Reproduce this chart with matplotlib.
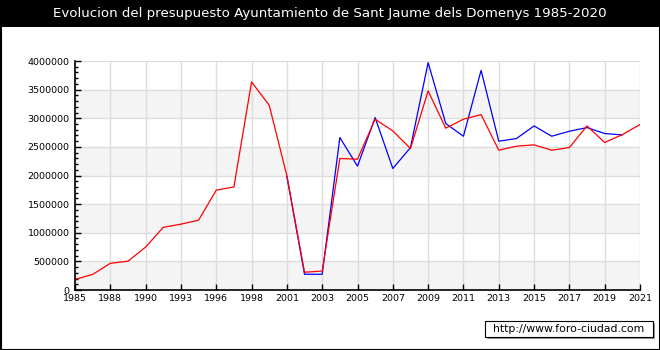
import matplotlib
matplotlib.use("Agg")
import matplotlib.pyplot as plt
from matplotlib.patches import Rectangle
from matplotlib.ticker import MultipleLocator

# Data points (the x axis places each point at equal spacing)
years = ['1985', '1987', '1988', '1989', '1990', '1992', '1993', '1995', '1996', '1997',
         '1998', '2000', '2001', '2002', '2003', '2004', '2005', '2006', '2007', '2008',
         '2009', '2010', '2011', '2012', '2013', '2014', '2015', '2016', '2017', '2018',
         '2019', '2020', '2021']
tick_labels = ['1985', '1988', '1990', '1993', '1996', '1998', '2001', '2003', '2005',
               '2007', '2009', '2011', '2013', '2015', '2017', '2019', '2021']

red_values = [185000, 272000, 466000, 503000, 750000, 1095000, 1150000, 1220000, 1744000,
              1800000, 3634000, 3227000, 1995000, 310000, 331000, 2297000, 2285000,
              2983000, 2779000, 2471000, 3477000, 2826000, 2983000, 3064000, 2442000,
              2512000, 2535000, 2442000, 2488000, 2866000, 2576000, 2715000, 2889000]

blue_years = years[12:32]
blue_values = [1985000, 275000, 275000, 2663000, 2163000, 3012000, 2122000, 2488000,
               3971000, 2907000, 2686000, 3837000, 2599000, 2645000, 2866000, 2686000,
               2773000, 2837000, 2733000, 2709000]

title = "Evolucion del presupuesto Ayuntamiento de Sant Jaume dels Domenys 1985-2020"
watermark = "http://www.foro-ciudad.com"

W, H = 660, 350
fig = plt.figure(figsize=(W / 100, H / 100), dpi=100)
fig.patch.set_facecolor('white')

# title bar
fig.add_artist(Rectangle((0, 1 - 27 / H), 1, 27 / H, transform=fig.transFigure,
                         facecolor='black', edgecolor='none', zorder=0))
fig.text(0.5, 1 - 13.5 / H, title, color='white', fontsize=9.6,
         ha='center', va='center', family='DejaVu Sans')
# outer frame
fig.add_artist(Rectangle((0.5 / W, 0.5 / H), 1 - 1 / W, 1 - 1 / H, transform=fig.transFigure,
                         facecolor='none', edgecolor='black', lw=1.5, zorder=5))

left, right, top, bottom = 75, 640, 61, 290
ax = fig.add_axes([left / W, 1 - bottom / H, (right - left) / W, (bottom - top) / H])
ax.set_facecolor('white')

xpos = {y: i for i, y in enumerate(years)}
n = len(years)
ax.set_xlim(0, n - 1)
ax.set_ylim(0, 4000000)

# alternating bands
for lo in [0, 1000000, 2000000, 3000000]:
    ax.axhspan(lo, lo + 500000, color='#f4f4f4', zorder=0, lw=0)

# grid
for v in range(0, 4000001, 500000):
    ax.axhline(v, color='#dddddd', lw=1, zorder=1)
tick_pos = list(range(0, n, 2))
for p in tick_pos:
    ax.axvline(p, color='#dddddd', lw=1, zorder=1)

bx = [xpos[y] for y in blue_years]
rx = [xpos[y] for y in years]
ax.plot(bx, blue_values, color='#0000ff', lw=0.9, zorder=3)
ax.plot(rx, red_values, color='#ff0000', lw=0.9, zorder=4)

for s in ['top', 'right']:
    ax.spines[s].set_visible(False)
for s in ['left', 'bottom']:
    ax.spines[s].set_color('black')
    ax.spines[s].set_linewidth(1.2)
    ax.spines[s].set_zorder(6)

ax.set_xticks(tick_pos)
ax.set_xticklabels(tick_labels)
ax.set_yticks(range(0, 4000001, 500000))
ax.set_yticklabels([str(v) for v in range(0, 4000001, 500000)])
ax.yaxis.set_minor_locator(MultipleLocator(100000))
ax.tick_params(axis='both', which='major', direction='in', length=4, width=1,
               labelsize=6.8, color='black')
ax.tick_params(axis='y', which='minor', direction='in', length=2.5, width=1, color='black')
ax.tick_params(axis='x', pad=3)
ax.tick_params(axis='y', pad=4)
for lab in ax.get_xticklabels() + ax.get_yticklabels():
    lab.set_family('DejaVu Sans')

# watermark box
bx0, by0, bw, bh = 485, 321, 168, 16
fig.add_artist(Rectangle(((bx0 + 2) / W, 1 - (by0 + bh + 2) / H), bw / W, bh / H,
                         transform=fig.transFigure, facecolor='#999999', edgecolor='none', zorder=6))
fig.add_artist(Rectangle((bx0 / W, 1 - (by0 + bh) / H), bw / W, bh / H,
                         transform=fig.transFigure, facecolor='white', edgecolor='black',
                         lw=0.8, zorder=7))
fig.text((bx0 + bw / 2) / W, 1 - (by0 + bh / 2) / H, watermark, fontsize=7.8,
         ha='center', va='center', zorder=8, family='DejaVu Sans')

fig.savefig('out.png', dpi=100, facecolor='white')
